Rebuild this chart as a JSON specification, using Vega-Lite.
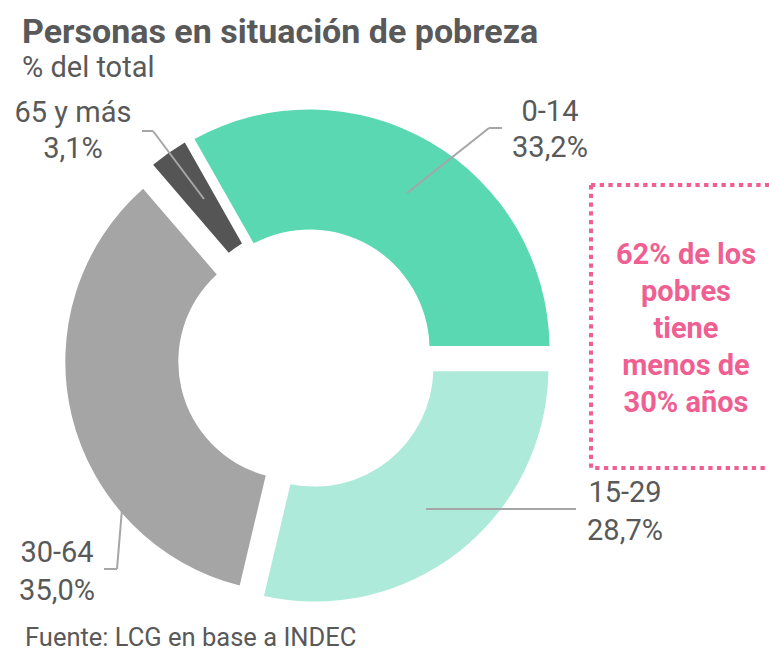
{
  "$schema": "https://vega.github.io/schema/vega-lite/v6.json",
  "width": 769,
  "height": 558,
  "autosize": {"type": "none"},
  "padding": {"top": 95, "left": 0, "right": 0, "bottom": 0},
  "background": "white",
  "title": {
    "text": "Personas en situación de pobreza",
    "subtitle": "% del total",
    "anchor": "start",
    "dx": 22,
    "offset": 12,
    "font": "Roboto",
    "fontSize": 34,
    "fontWeight": "bold",
    "color": "#595959",
    "subtitleFont": "Roboto",
    "subtitleFontSize": 29,
    "subtitleColor": "#595959",
    "subtitlePadding": 4
  },
  "config": {
    "view": {"stroke": null},
    "locale": {"number": {"decimal": ",", "thousands": ".", "grouping": [3], "currency": ["$", ""]}}
  },
  "data": {
    "values": [
      {"grupo": "0-14", "proporcion": 0.332, "orden": 1},
      {"grupo": "15-29", "proporcion": 0.287, "orden": 2},
      {"grupo": "30-64", "proporcion": 0.350, "orden": 3},
      {"grupo": "65 y más", "proporcion": 0.031, "orden": 4}
    ]
  },
  "transform": [
    {"stack": "proporcion", "groupby": [], "sort": [{"field": "orden", "order": "ascending"}], "as": ["inicio", "fin"]}
  ],
  "layer": [
    {
      "transform": [{"filter": "datum.grupo === '0-14'"}],
      "layer": [
        {"mark": {"type": "arc", "outerRadius": 240, "innerRadius": 120, "padAngle": 0.027},
         "encoding": {
           "theta": {"field": "inicio", "type": "quantitative", "scale": {"domain": [0, 1], "range": [-0.5152, 5.768]}},
           "theta2": {"field": "fin"},
           "color": {"field": "grupo", "type": "nominal", "scale": {"domain": ["0-14", "15-29", "30-64", "65 y más"], "range": ["#5AD8B2", "#AEEAD9", "#A5A5A5", "#555555"]}, "legend": null},
           "x": {"datum": 0.0108, "type": "quantitative", "scale": {"domain": [-1.3064, 1.966], "nice": false, "zero": false}, "axis": null},
           "y": {"datum": 0.0404, "type": "quantitative", "scale": {"domain": [-1.2511, 1.1234], "nice": false, "zero": false}, "axis": null}
         }},
        {"mark": {"type": "rule", "color": "#A6A6A6", "strokeWidth": 2},
         "encoding": {"x": {"datum": 0.4255, "type": "quantitative", "scale": {"domain": [-1.3064, 1.966], "nice": false, "zero": false}, "axis": null},
                      "y": {"datum": 0.7064, "type": "quantitative", "scale": {"domain": [-1.2511, 1.1234], "nice": false, "zero": false}, "axis": null},
                      "x2": {"datum": 0.7745}, "y2": {"datum": 0.983}}},
        {"mark": {"type": "rule", "color": "#A6A6A6", "strokeWidth": 2},
         "encoding": {"x": {"datum": 0.7745, "type": "quantitative", "scale": {"domain": [-1.3064, 1.966], "nice": false, "zero": false}, "axis": null},
                      "y": {"datum": 0.983, "type": "quantitative", "scale": {"domain": [-1.2511, 1.1234], "nice": false, "zero": false}, "axis": null},
                      "x2": {"datum": 0.8298}, "y2": {"datum": 0.983}}},
        {"mark": {"type": "text", "font": "Roboto", "fontSize": 29, "color": "#595959", "align": "center", "baseline": "alphabetic"},
         "encoding": {"x": {"datum": 1.034, "type": "quantitative", "scale": {"domain": [-1.3064, 1.966], "nice": false, "zero": false}, "axis": null},
                      "y": {"datum": 1.0128, "type": "quantitative", "scale": {"domain": [-1.2511, 1.1234], "nice": false, "zero": false}, "axis": null},
                      "text": {"field": "grupo", "type": "nominal"}}},
        {"mark": {"type": "text", "font": "Roboto", "fontSize": 29, "color": "#595959", "align": "center", "baseline": "alphabetic"},
         "encoding": {"x": {"datum": 1.034, "type": "quantitative", "scale": {"domain": [-1.3064, 1.966], "nice": false, "zero": false}, "axis": null},
                      "y": {"datum": 0.8596, "type": "quantitative", "scale": {"domain": [-1.2511, 1.1234], "nice": false, "zero": false}, "axis": null},
                      "text": {"field": "proporcion", "type": "quantitative", "format": ".1%"}}}
      ]
    },
    {
      "transform": [{"filter": "datum.grupo === '15-29'"}],
      "layer": [
        {"mark": {"type": "arc", "outerRadius": 234, "innerRadius": 119, "padAngle": 0.027},
         "encoding": {
           "theta": {"field": "inicio", "type": "quantitative", "scale": {"domain": [0, 1], "range": [-0.5152, 5.768]}},
           "theta2": {"field": "fin"},
           "color": {"field": "grupo", "type": "nominal", "scale": {"domain": ["0-14", "15-29", "30-64", "65 y más"], "range": ["#5AD8B2", "#AEEAD9", "#A5A5A5", "#555555"]}, "legend": null},
           "x": {"datum": 0.0315, "type": "quantitative", "scale": {"domain": [-1.3064, 1.966], "nice": false, "zero": false}, "axis": null},
           "y": {"datum": -0.0367, "type": "quantitative", "scale": {"domain": [-1.2511, 1.1234], "nice": false, "zero": false}, "axis": null}
         }},
        {"mark": {"type": "rule", "color": "#A6A6A6", "strokeWidth": 2},
         "encoding": {"x": {"datum": 0.5064, "type": "quantitative", "scale": {"domain": [-1.3064, 1.966], "nice": false, "zero": false}, "axis": null},
                      "y": {"datum": -0.6383, "type": "quantitative", "scale": {"domain": [-1.2511, 1.1234], "nice": false, "zero": false}, "axis": null},
                      "x2": {"datum": 1.1447}, "y2": {"datum": -0.6383}}},
        {"mark": {"type": "text", "font": "Roboto", "fontSize": 29, "color": "#595959", "align": "center", "baseline": "alphabetic"},
         "encoding": {"x": {"datum": 1.3532, "type": "quantitative", "scale": {"domain": [-1.3064, 1.966], "nice": false, "zero": false}, "axis": null},
                      "y": {"datum": -0.6085, "type": "quantitative", "scale": {"domain": [-1.2511, 1.1234], "nice": false, "zero": false}, "axis": null},
                      "text": {"field": "grupo", "type": "nominal"}}},
        {"mark": {"type": "text", "font": "Roboto", "fontSize": 29, "color": "#595959", "align": "center", "baseline": "alphabetic"},
         "encoding": {"x": {"datum": 1.3532, "type": "quantitative", "scale": {"domain": [-1.3064, 1.966], "nice": false, "zero": false}, "axis": null},
                      "y": {"datum": -0.7702, "type": "quantitative", "scale": {"domain": [-1.2511, 1.1234], "nice": false, "zero": false}, "axis": null},
                      "text": {"field": "proporcion", "type": "quantitative", "format": ".1%"}}}
      ]
    },
    {
      "transform": [{"filter": "datum.grupo === '30-64'"}],
      "layer": [
        {"mark": {"type": "arc", "outerRadius": 231, "innerRadius": 118, "padAngle": 0.027},
         "encoding": {
           "theta": {"field": "inicio", "type": "quantitative", "scale": {"domain": [0, 1], "range": [-0.5152, 5.768]}},
           "theta2": {"field": "fin"},
           "color": {"field": "grupo", "type": "nominal", "scale": {"domain": ["0-14", "15-29", "30-64", "65 y más"], "range": ["#5AD8B2", "#AEEAD9", "#A5A5A5", "#555555"]}, "legend": null},
           "x": {"datum": -0.0455, "type": "quantitative", "scale": {"domain": [-1.3064, 1.966], "nice": false, "zero": false}, "axis": null},
           "y": {"datum": -0.0111, "type": "quantitative", "scale": {"domain": [-1.2511, 1.1234], "nice": false, "zero": false}, "axis": null}
         }},
        {"mark": {"type": "rule", "color": "#A6A6A6", "strokeWidth": 2},
         "encoding": {"x": {"datum": -0.7872, "type": "quantitative", "scale": {"domain": [-1.3064, 1.966], "nice": false, "zero": false}, "axis": null},
                      "y": {"datum": -0.6383, "type": "quantitative", "scale": {"domain": [-1.2511, 1.1234], "nice": false, "zero": false}, "axis": null},
                      "x2": {"datum": -0.8085}, "y2": {"datum": -0.8936}}},
        {"mark": {"type": "rule", "color": "#A6A6A6", "strokeWidth": 2},
         "encoding": {"x": {"datum": -0.8085, "type": "quantitative", "scale": {"domain": [-1.3064, 1.966], "nice": false, "zero": false}, "axis": null},
                      "y": {"datum": -0.8936, "type": "quantitative", "scale": {"domain": [-1.2511, 1.1234], "nice": false, "zero": false}, "axis": null},
                      "x2": {"datum": -0.8638}, "y2": {"datum": -0.8936}}},
        {"mark": {"type": "text", "font": "Roboto", "fontSize": 29, "color": "#595959", "align": "center", "baseline": "alphabetic"},
         "encoding": {"x": {"datum": -1.0638, "type": "quantitative", "scale": {"domain": [-1.3064, 1.966], "nice": false, "zero": false}, "axis": null},
                      "y": {"datum": -0.8638, "type": "quantitative", "scale": {"domain": [-1.2511, 1.1234], "nice": false, "zero": false}, "axis": null},
                      "text": {"field": "grupo", "type": "nominal"}}},
        {"mark": {"type": "text", "font": "Roboto", "fontSize": 29, "color": "#595959", "align": "center", "baseline": "alphabetic"},
         "encoding": {"x": {"datum": -1.0638, "type": "quantitative", "scale": {"domain": [-1.3064, 1.966], "nice": false, "zero": false}, "axis": null},
                      "y": {"datum": -1.0255, "type": "quantitative", "scale": {"domain": [-1.2511, 1.1234], "nice": false, "zero": false}, "axis": null},
                      "text": {"field": "proporcion", "type": "quantitative", "format": ".1%"}}}
      ]
    },
    {
      "transform": [{"filter": "datum.grupo === '65 y más'"}],
      "layer": [
        {"mark": {"type": "arc", "outerRadius": 236, "innerRadius": 120, "padAngle": 0.027},
         "encoding": {
           "theta": {"field": "inicio", "type": "quantitative", "scale": {"domain": [0, 1], "range": [-0.5152, 5.768]}},
           "theta2": {"field": "fin"},
           "color": {"field": "grupo", "type": "nominal", "scale": {"domain": ["0-14", "15-29", "30-64", "65 y más"], "range": ["#5AD8B2", "#AEEAD9", "#A5A5A5", "#555555"]}, "legend": null},
           "x": {"datum": -0.0119, "type": "quantitative", "scale": {"domain": [-1.3064, 1.966], "nice": false, "zero": false}, "axis": null},
           "y": {"datum": 0.0548, "type": "quantitative", "scale": {"domain": [-1.2511, 1.1234], "nice": false, "zero": false}, "axis": null}
         }},
        {"mark": {"type": "rule", "color": "#A6A6A6", "strokeWidth": 2},
         "encoding": {"x": {"datum": -0.7021, "type": "quantitative", "scale": {"domain": [-1.3064, 1.966], "nice": false, "zero": false}, "axis": null},
                      "y": {"datum": 0.9702, "type": "quantitative", "scale": {"domain": [-1.2511, 1.1234], "nice": false, "zero": false}, "axis": null},
                      "x2": {"datum": -0.6553}, "y2": {"datum": 0.9702}}},
        {"mark": {"type": "rule", "color": "#A6A6A6", "strokeWidth": 2},
         "encoding": {"x": {"datum": -0.6553, "type": "quantitative", "scale": {"domain": [-1.3064, 1.966], "nice": false, "zero": false}, "axis": null},
                      "y": {"datum": 0.9702, "type": "quantitative", "scale": {"domain": [-1.2511, 1.1234], "nice": false, "zero": false}, "axis": null},
                      "x2": {"datum": -0.4383}, "y2": {"datum": 0.6809}}},
        {"mark": {"type": "text", "font": "Roboto", "fontSize": 29, "color": "#595959", "align": "center", "baseline": "alphabetic"},
         "encoding": {"x": {"datum": -0.9957, "type": "quantitative", "scale": {"domain": [-1.3064, 1.966], "nice": false, "zero": false}, "axis": null},
                      "y": {"datum": 1.0085, "type": "quantitative", "scale": {"domain": [-1.2511, 1.1234], "nice": false, "zero": false}, "axis": null},
                      "text": {"field": "grupo", "type": "nominal"}}},
        {"mark": {"type": "text", "font": "Roboto", "fontSize": 29, "color": "#595959", "align": "center", "baseline": "alphabetic"},
         "encoding": {"x": {"datum": -0.9957, "type": "quantitative", "scale": {"domain": [-1.3064, 1.966], "nice": false, "zero": false}, "axis": null},
                      "y": {"datum": 0.8553, "type": "quantitative", "scale": {"domain": [-1.2511, 1.1234], "nice": false, "zero": false}, "axis": null},
                      "text": {"field": "proporcion", "type": "quantitative", "format": ".1%"}}}
      ]
    },
    {
      "data": {"values": [{"nota": "62% de los pobres tiene menos de 30% años"}]},
      "layer": [
        {"mark": {"type": "rect", "fill": null, "fillOpacity": 0, "stroke": "#EF5F92", "strokeWidth": 4, "strokeDash": [4.3, 4.4]},
         "encoding": {"x": {"datum": 1.2085, "type": "quantitative", "scale": {"domain": [-1.3064, 1.966], "nice": false, "zero": false}, "axis": null},
                      "y": {"datum": 0.7404, "type": "quantitative", "scale": {"domain": [-1.2511, 1.1234], "nice": false, "zero": false}, "axis": null},
                      "x2": {"datum": 2.0128}, "y2": {"datum": -0.4638}}},
        {"mark": {"type": "text", "font": "Roboto", "fontSize": 29, "fontWeight": "bold", "color": "#EF5F92", "align": "center", "baseline": "alphabetic", "lineHeight": 37},
         "encoding": {"x": {"datum": 1.6128, "type": "quantitative", "scale": {"domain": [-1.3064, 1.966], "nice": false, "zero": false}, "axis": null},
                      "y": {"datum": 0.4043, "type": "quantitative", "scale": {"domain": [-1.2511, 1.1234], "nice": false, "zero": false}, "axis": null},
                      "text": {"value": ["62% de los", "pobres", "tiene", "menos de", "30% años"]}}}
      ]
    },
    {
      "data": {"values": [{"fuente": "Fuente: LCG en base a INDEC"}]},
      "mark": {"type": "text", "font": "Roboto", "fontSize": 25.5, "color": "#595959", "align": "left", "baseline": "alphabetic"},
      "encoding": {"x": {"datum": -1.2, "type": "quantitative", "scale": {"domain": [-1.3064, 1.966], "nice": false, "zero": false}, "axis": null},
                   "y": {"datum": -1.2213, "type": "quantitative", "scale": {"domain": [-1.2511, 1.1234], "nice": false, "zero": false}, "axis": null},
                   "text": {"field": "fuente", "type": "nominal"}}
    }
  ]
}
